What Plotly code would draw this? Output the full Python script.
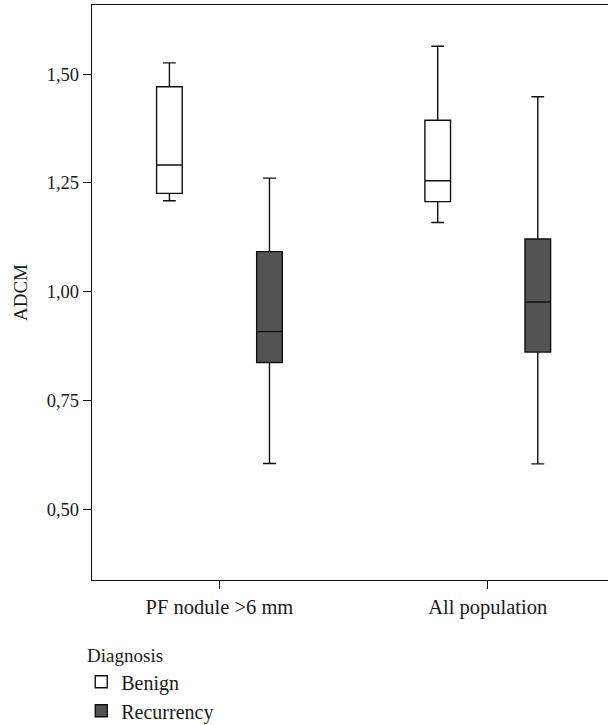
import plotly.graph_objects as go

categories = ["PF nodule >6 mm", "All population"]

benign_lower = [1.209, 1.159]
benign_q1 = [1.226, 1.207]
benign_median = [1.291, 1.255]
benign_q3 = [1.471, 1.394]
benign_upper = [1.526, 1.564]

recur_lower = [0.605, 0.604]
recur_q1 = [0.837, 0.861]
recur_median = [0.908, 0.976]
recur_q3 = [1.092, 1.121]
recur_upper = [1.261, 1.448]

y_ticks = [0.50, 0.75, 1.00, 1.25, 1.50]

FONT = "Liberation Serif"

fig = go.Figure()
fig.add_trace(go.Box(
    name="Benign", x=categories,
    lowerfence=benign_lower, q1=benign_q1, median=benign_median,
    q3=benign_q3, upperfence=benign_upper,
    fillcolor="white", line=dict(color="#111111", width=1.4),
    whiskerwidth=0.5, boxpoints=False,
))
fig.add_trace(go.Box(
    name="Recurrency", x=categories,
    lowerfence=recur_lower, q1=recur_q1, median=recur_median,
    q3=recur_q3, upperfence=recur_upper,
    fillcolor="#545454", line=dict(color="#111111", width=1.4),
    whiskerwidth=0.5, boxpoints=False,
))

fig.update_layout(
    width=616, height=725,
    margin=dict(l=92, r=0, t=5, b=145, autoexpand=False),
    paper_bgcolor="white", plot_bgcolor="white",
    boxmode="group", boxgap=0.254, boxgroupgap=0.744,
    separators=", ",
    font=dict(family=FONT, size=19, color="#1a1a1a"),
    showlegend=True,
    legend=dict(
        title=dict(text="\u2009Diagnosis", side="top", font=dict(family=FONT, size=19)),
        x=-0.0205, y=-0.1, xanchor="left", yanchor="top",
        font=dict(family=FONT, size=20),
        tracegroupgap=0, itemwidth=30,
        bgcolor="rgba(0,0,0,0)",
    ),
    xaxis=dict(
        type="category", range=[-0.475, 1.478],
        showline=True, linecolor="#111111", linewidth=1.4, mirror=True,
        ticks="outside", ticklen=8, tickwidth=1.2, tickcolor="#111111",
        showgrid=False, zeroline=False,
        tickfont=dict(family=FONT, size=20.5),
    ),
    yaxis=dict(
        range=[0.337, 1.659],
        tickvals=y_ticks, tickformat=".2f",
        showline=True, linecolor="#111111", linewidth=1.4,
        ticks="outside", ticklen=8, tickwidth=1.2, tickcolor="#111111",
        showgrid=False, zeroline=False,
        title=dict(text="ADCM", font=dict(family=FONT, size=19), standoff=14),
        tickfont=dict(family=FONT, size=18.5),
        automargin=False,
    ),
)

fig.write_html("out.html", config={"displayModeBar": False},
               post_script="document.body.style.margin='0';document.body.style.overflow='hidden';")
